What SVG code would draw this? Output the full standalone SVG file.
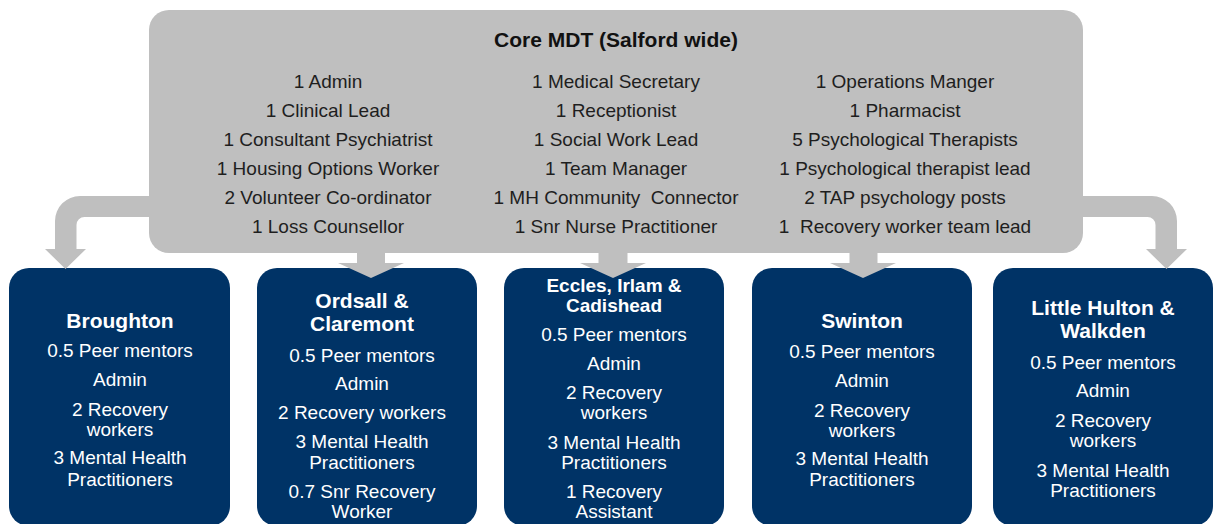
<svg xmlns="http://www.w3.org/2000/svg" width="1217" height="524" viewBox="0 0 1217 524">
  <style>
    text { font-family: "Liberation Sans", Arial, sans-serif; text-anchor: middle; }
    .core { fill: #bfbfbf; }
    .core-title { font-size: 21px; font-weight: bold; fill: #111; }
    .core-item { font-size: 19px; fill: #1e1e1e; }
    .team { fill: #003366; }
    .team-title { font-size: 21px; font-weight: bold; fill: #ffffff; }
    .team-title-sm { font-size: 19px; font-weight: bold; fill: #ffffff; }
    .team-item { font-size: 19px; fill: #ffffff; }
    .arrow { fill: #bfbfbf; }
  </style>

  <!-- Core multidisciplinary team -->
  <g id="core-mdt">
    <rect class="core" x="149" y="10" width="934" height="243" rx="20" ry="20"/>
    <text class="core-title" x="616" y="47">Core MDT (Salford wide)</text>
    <g class="core-item">
      <text class="core-item" x="328" y="88">1 Admin</text>
      <text class="core-item" x="328" y="117">1 Clinical Lead</text>
      <text class="core-item" x="328" y="146">1 Consultant Psychiatrist</text>
      <text class="core-item" x="328" y="175">1 Housing Options Worker</text>
      <text class="core-item" x="328" y="204">2 Volunteer Co-ordinator</text>
      <text class="core-item" x="328" y="233">1 Loss Counsellor</text>

      <text class="core-item" x="616" y="88">1 Medical Secretary</text>
      <text class="core-item" x="616" y="117">1 Receptionist</text>
      <text class="core-item" x="616" y="146">1 Social Work Lead</text>
      <text class="core-item" x="616" y="175">1 Team Manager</text>
      <text class="core-item" x="616" y="204" xml:space="preserve">1 MH Community  Connector</text>
      <text class="core-item" x="616" y="233">1 Snr Nurse Practitioner</text>

      <text class="core-item" x="905" y="88">1 Operations Manger</text>
      <text class="core-item" x="905" y="117">1 Pharmacist</text>
      <text class="core-item" x="905" y="146">5 Psychological Therapists</text>
      <text class="core-item" x="905" y="175">1 Psychological therapist lead</text>
      <text class="core-item" x="905" y="204">2 TAP psychology posts</text>
      <text class="core-item" x="905" y="233" xml:space="preserve">1  Recovery worker team lead</text>
    </g>
  </g>

  <!-- Neighbourhood teams -->
  <g id="broughton">
    <rect class="team" x="9" y="268" width="221" height="258" rx="20" ry="20"/>
    <text class="team-title" x="120" y="328">Broughton</text>
    <text class="team-item" x="120" y="357">0.5 Peer mentors</text>
    <text class="team-item" x="120" y="386">Admin</text>
    <text class="team-item" x="120" y="416">2 Recovery</text>
    <text class="team-item" x="120" y="436">workers</text>
    <text class="team-item" x="120" y="464">3 Mental Health</text>
    <text class="team-item" x="120" y="486">Practitioners</text>
  </g>

  <g id="ordsall-claremont">
    <rect class="team" x="257" y="268" width="220" height="258" rx="20" ry="20"/>
    <text class="team-title" x="362" y="308">Ordsall &amp;</text>
    <text class="team-title" x="362" y="331">Claremont</text>
    <text class="team-item" x="362" y="362">0.5 Peer mentors</text>
    <text class="team-item" x="362" y="390">Admin</text>
    <text class="team-item" x="362" y="419">2 Recovery workers</text>
    <text class="team-item" x="362" y="448">3 Mental Health</text>
    <text class="team-item" x="362" y="469">Practitioners</text>
    <text class="team-item" x="362" y="498">0.7 Snr Recovery</text>
    <text class="team-item" x="362" y="518">Worker</text>
  </g>

  <g id="eccles-irlam-cadishead">
    <rect class="team" x="504" y="268" width="220" height="258" rx="20" ry="20"/>
    <text class="team-title-sm" x="614" y="292">Eccles, Irlam &amp;</text>
    <text class="team-title-sm" x="614" y="312">Cadishead</text>
    <text class="team-item" x="614" y="341">0.5 Peer mentors</text>
    <text class="team-item" x="614" y="370">Admin</text>
    <text class="team-item" x="614" y="399">2 Recovery</text>
    <text class="team-item" x="614" y="419">workers</text>
    <text class="team-item" x="614" y="449">3 Mental Health</text>
    <text class="team-item" x="614" y="469">Practitioners</text>
    <text class="team-item" x="614" y="498">1 Recovery</text>
    <text class="team-item" x="614" y="518">Assistant</text>
  </g>

  <g id="swinton">
    <rect class="team" x="752" y="268" width="220" height="258" rx="20" ry="20"/>
    <text class="team-title" x="862" y="328">Swinton</text>
    <text class="team-item" x="862" y="358">0.5 Peer mentors</text>
    <text class="team-item" x="862" y="387">Admin</text>
    <text class="team-item" x="862" y="417">2 Recovery</text>
    <text class="team-item" x="862" y="437">workers</text>
    <text class="team-item" x="862" y="465">3 Mental Health</text>
    <text class="team-item" x="862" y="486">Practitioners</text>
  </g>

  <g id="little-hulton-walkden">
    <rect class="team" x="993" y="268" width="220" height="258" rx="20" ry="20"/>
    <text class="team-title" x="1103" y="315">Little Hulton &amp;</text>
    <text class="team-title" x="1103" y="338">Walkden</text>
    <text class="team-item" x="1103" y="369">0.5 Peer mentors</text>
    <text class="team-item" x="1103" y="397">Admin</text>
    <text class="team-item" x="1103" y="427">2 Recovery</text>
    <text class="team-item" x="1103" y="447">workers</text>
    <text class="team-item" x="1103" y="477">3 Mental Health</text>
    <text class="team-item" x="1103" y="497">Practitioners</text>
  </g>

  <!-- Block arrows from the core team to each neighbourhood team -->
  <g id="connectors">
    <path class="arrow" d="M160 196 H80 A25 25 0 0 0 55 221 V249 H45 L65.5 269 L86 249 H76.5 V225 A8 8 0 0 1 84.5 217 H160 Z"/>
    <path class="arrow" d="M1072 196 H1152 A25 25 0 0 1 1177 221 V249 H1187 L1166.5 269 L1146 249 H1155.5 V225 A8 8 0 0 0 1147.5 217 H1072 Z"/>
    <path class="arrow" d="M357 250 V263 H338 L371 278 L404 263 H385 V250 Z"/>
    <path class="arrow" d="M598.5 250 V263 H580 L613 278 L646 263 H627.5 V250 Z"/>
    <path class="arrow" d="M849.5 250 V263 H830 L863 278 L896 263 H877.5 V250 Z"/>
  </g>
</svg>
